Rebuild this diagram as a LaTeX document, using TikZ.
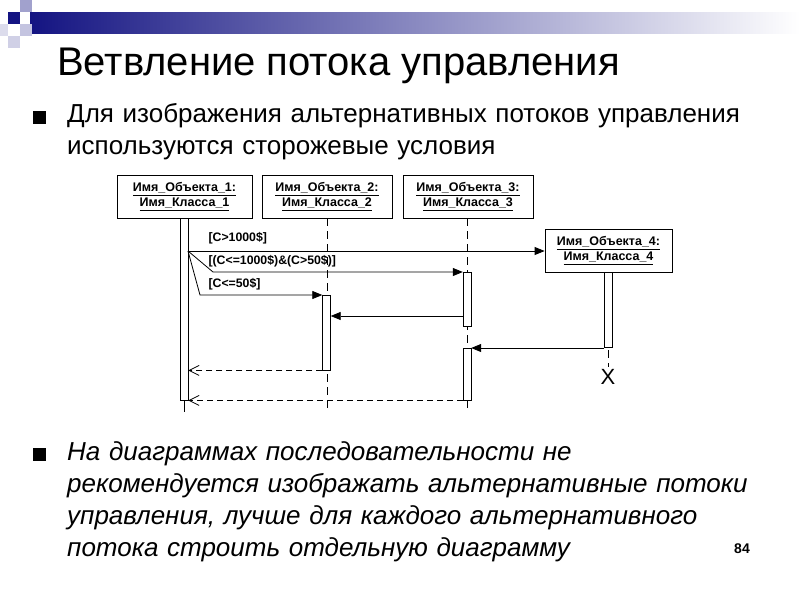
\documentclass[tikz,border=0pt]{standalone}
\usepackage{fontspec}
\setmainfont{Liberation Sans}
\usetikzlibrary{arrows.meta}
\definecolor{navy}{RGB}{20,20,130}
\begin{document}
\begin{tikzpicture}[x=1pt,y=-1pt,
  obj/.style={draw,thick,fill=white,minimum width=#1,minimum height=43pt,inner sep=1pt,align=center,font=\fontsize{12.5}{15}\selectfont\bfseries},
  act/.style={draw,fill=white,minimum width=8pt,inner sep=0pt},
  life/.style={dash pattern=on 8pt off 5pt,thick},
  msg/.style={thick,-{Triangle[length=10pt,width=8pt]}},
  ret/.style={thick,dash pattern=on 6pt off 4pt,-{Straight Barb[length=10pt,width=10pt]}},
  lbl/.style={anchor=west,font=\fontsize{12.3}{14}\selectfont\bfseries}]
\useasboundingbox (0,0) rectangle (800,600);
% decoration
\shade[left color=navy,right color=white] (30,12) rectangle (800,33);
\fill[navy] (8,12) rectangle (20,24);
\fill[navy!40] (20,0) rectangle (32,12);
\fill[navy!25] (20,24) rectangle (32,36);
\fill[navy!20] (8,36) rectangle (20,48);
\fill[navy!15] (0,24) rectangle (8,36);
\node[anchor=base west,font=\fontsize{40}{44}\selectfont,inner sep=0pt] (title) at (57,75) {Ветвление потока управления};
\fill (33,111) rectangle (46,124);
\node[anchor=base west,font=\fontsize{26}{32}\selectfont,align=left,text width=740pt,inner sep=0pt] (b1) at (67,122)
 {Для изображения альтернативных потоков управления\\используются сторожевые условия};
\fill (33,448) rectangle (46,461);
\node[anchor=base west,font=\fontsize{26}{32}\selectfont\itshape,align=left,text width=740pt,inner sep=0pt] (b2) at (67,460)
 {На диаграммах последовательности не\\рекомендуется изображать альтернативные потоки\\управления, лучше для каждого альтернативного\\потока строить отдельную диаграмму};
\node[font=\fontsize{14}{16}\selectfont\bfseries] (pn) at (742,549) {84};
% lifelines
\draw[life] (327,218) -- (327,412);
\draw[life] (467,218) -- (467,412);
\draw[life] (608,272) -- (608,367);
\draw[thick] (184,218) -- (184,412);
\node[obj=135pt] (o1) at (184.5,196.5) {\underline{Имя\_Объекта\_1:}\\\underline{Имя\_Класса\_1}};
\node[obj=130pt] (o2) at (327,196.5) {\underline{Имя\_Объекта\_2:}\\\underline{Имя\_Класса\_2}};
\node[obj=130pt] (o3) at (468,196.5) {\underline{Имя\_Объекта\_3:}\\\underline{Имя\_Класса\_3}};
\node[obj=127pt] (o4) at (608.5,250.5) {\underline{Имя\_Объекта\_4:}\\\underline{Имя\_Класса\_4}};
\node[act,minimum height=182pt,anchor=north] (a1) at (184,218) {};
\node[act,minimum height=75pt,anchor=north] (a2) at (326.5,295) {};
\node[act,minimum height=54pt,anchor=north] (a3) at (467,272) {};
\node[act,minimum height=52pt,anchor=north] (a3b) at (467,348) {};
\node[act,minimum height=75pt,anchor=north] (a4) at (608,272) {};
\node[font=\fontsize{22}{22}\selectfont] (x) at (608,377) {X};
% messages
\coordinate (s) at (188,251);
\draw[msg] (s) -- (o4.west |- s);
\draw[msg] (s) -- (213,272) -- (a3.north west);
\draw[msg] (s) -- (200,295) -- (a2.north west);
\draw[msg] (a3.east |- 0,316) ++(-8,0) -- (a2.east |- 0,316);
\draw[msg] (a4.west |- 0,348) -- (a3b.north east);
\draw[ret] (a2.south west) -- (a1.east |- a2.south);
\draw[ret] (a3b.south west) -- (a1.east |- a3b.south);
\node[lbl] (l1) at (205,238) {[C>1000\$]};
\node[lbl] (l2) at (205,261) {[(C<=1000\$)\&(C>50\$)]};
\node[lbl] (l3) at (205,284) {[C<=50\$]};
\end{tikzpicture}
\end{document}
